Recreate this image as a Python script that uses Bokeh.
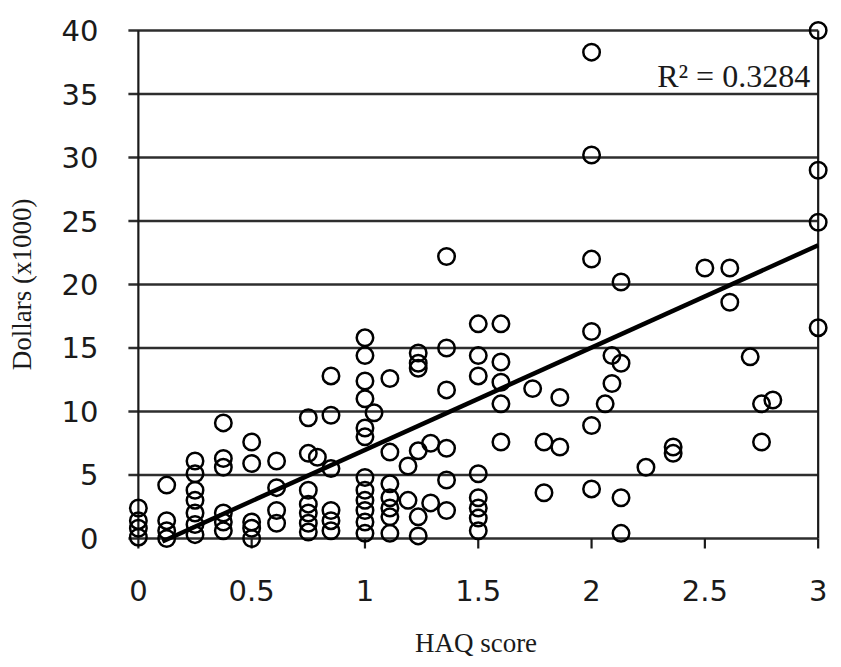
from bokeh.plotting import figure
from bokeh.models import Range1d, FixedTicker, Label
from bokeh.embed import file_html
from bokeh.resources import INLINE

# ---- data ----
haq_scores = (
    [0.0] * 4 + [0.125] * 4 + [0.25] * 7 + [0.375] * 6 + [0.5] * 5 + [0.61] * 4
    + [0.75] * 7 + [0.79] + [0.85] * 6 + [1.0] * 12 + [1.04] + [1.11] * 7
    + [1.19] * 2 + [1.235] * 6 + [1.29] * 2 + [1.36] * 6 + [1.5] * 8
    + [1.6] * 5 + [1.74] + [1.79] * 2 + [1.86] * 2 + [2.0] * 6 + [2.06]
    + [2.09] * 2 + [2.13] * 4 + [2.24] + [2.36] * 2 + [2.5] + [2.61] * 2
    + [2.7] + [2.75] * 2 + [2.8] + [3.0] * 4
)
costs = [
    2.4, 1.4, 0.8, 0.1,                       # 0
    4.2, 1.4, 0.6, 0.0,                       # 0.125
    6.1, 5.1, 3.8, 3.0, 2.0, 1.1, 0.3,        # 0.25
    9.1, 6.3, 5.6, 2.0, 1.3, 0.6,             # 0.375
    7.6, 5.9, 1.3, 0.8, 0.0,                  # 0.5
    6.1, 4.0, 2.2, 1.2,                       # 0.61
    9.5, 6.7, 3.8, 2.7, 2.0, 1.2, 0.5,        # 0.75
    6.4,                                      # 0.79
    12.8, 9.7, 5.5, 2.2, 1.4, 0.6,            # 0.85
    15.8, 14.4, 12.4, 11.0, 8.7, 8.0, 4.8, 3.8, 3.0, 2.2, 1.3, 0.4,  # 1.0
    9.9,                                      # 1.04
    12.6, 6.8, 4.3, 3.2, 2.4, 1.7, 0.4,       # 1.11
    5.7, 3.0,                                 # 1.19
    14.6, 13.8, 13.4, 6.9, 1.7, 0.2,          # 1.235
    7.5, 2.8,                                 # 1.29
    22.2, 15.0, 11.7, 7.1, 4.6, 2.2,          # 1.36
    16.9, 14.4, 12.8, 5.1, 3.2, 2.4, 1.6, 0.6,  # 1.5
    16.9, 13.9, 12.3, 10.6, 7.6,              # 1.6
    11.8,                                     # 1.74
    7.6, 3.6,                                 # 1.79
    11.1, 7.2,                                # 1.86
    38.3, 30.2, 22.0, 16.3, 8.9, 3.9,         # 2.0
    10.6,                                     # 2.06
    14.4, 12.2,                               # 2.09
    20.2, 13.8, 3.2, 0.4,                     # 2.13
    5.6,                                      # 2.24
    7.2, 6.7,                                 # 2.36
    21.3,                                     # 2.5
    21.3, 18.6,                               # 2.61
    14.3,                                     # 2.7
    10.6, 7.6,                                # 2.75
    10.9,                                     # 2.8
    40.0, 29.0, 24.9, 16.6,                   # 3.0
]

x_ticks = [0, 0.5, 1, 1.5, 2, 2.5, 3]
x_tick_labels = ["0", "0.5", "1", "1.5", "2", "2.5", "3"]
y_ticks = [0, 5, 10, 15, 20, 25, 30, 35, 40]
y_tick_labels = ["0", "5", "10", "15", "20", "25", "30", "35", "40"]

fit_slope = 8.06
fit_intercept = -1.09
fit_x = [0.106, 3.0]
r_squared_text = "R\u00b2 = 0.3284"

x_title = "HAQ score"
y_title = "Dollars (x1000)"

# ---- style constants ----
INK = "#1a1a1a"
GRID = "#2e2e2e"
TICK_LEN_X = 0.044   # data units (~10 px) for left ticks
TICK_LEN_Y = 0.8     # data units (~10 px) for bottom ticks

p = figure(
    width=833, height=667,
    x_range=Range1d(-0.07, 3.05), y_range=Range1d(-0.95, 40.95),
    output_backend="svg", toolbar_location=None,
    min_border_left=122, min_border_right=4,
    min_border_top=18, min_border_bottom=117,
)
p.grid.visible = False
p.outline_line_color = None
p.background_fill_color = "white"
p.border_fill_color = "white"

for ax in (p.xaxis[0], p.yaxis[0]):
    ax.axis_line_color = None
    ax.major_tick_line_color = None
    ax.minor_tick_line_color = None
    ax.major_tick_out = 0
    ax.major_tick_in = 0
    ax.major_label_text_font = "DejaVu Sans"
    ax.major_label_text_font_size = "29px"
    ax.major_label_text_color = INK
    ax.axis_label_text_font = "Liberation Serif"
    ax.axis_label_text_font_size = "27px"
    ax.axis_label_text_font_style = "normal"
    ax.axis_label_text_color = INK

p.xaxis.ticker = FixedTicker(ticks=x_ticks)
p.yaxis.ticker = FixedTicker(ticks=y_ticks)
p.xaxis.major_label_overrides = dict(zip(x_ticks, x_tick_labels))
p.yaxis.major_label_overrides = dict(zip(y_ticks, y_tick_labels))
p.xaxis.axis_label = x_title
p.yaxis.axis_label = y_title
p.xaxis.major_label_standoff = 29
p.yaxis.major_label_standoff = 24
p.xaxis.axis_label_standoff = 24
p.yaxis.axis_label_standoff = 22

# horizontal grid lines (extending left as ticks)
n_y = len(y_ticks)
p.segment(x0=[-TICK_LEN_X] * n_y, y0=y_ticks, x1=[x_ticks[-1]] * n_y, y1=y_ticks,
          line_color=GRID, line_width=2.4)
# left and right frame lines
p.segment(x0=[x_ticks[0], x_ticks[-1]], y0=[y_ticks[0]] * 2,
          x1=[x_ticks[0], x_ticks[-1]], y1=[y_ticks[-1]] * 2,
          line_color=INK, line_width=2.2)
# bottom ticks
n_x = len(x_ticks)
p.segment(x0=x_ticks, y0=[-TICK_LEN_Y] * n_x, x1=x_ticks, y1=[0] * n_x,
          line_color=INK, line_width=2.2)

# data points
p.scatter(haq_scores, costs, marker="circle", size=16.5,
          fill_alpha=0, line_color="black", line_width=2.5)

# regression line
p.line(fit_x, [fit_intercept + fit_slope * v for v in fit_x],
       line_color="black", line_width=4.5)

p.add_layout(Label(x=3, y=36.4, x_offset=-8, text=r_squared_text,
                   text_align="right", text_baseline="alphabetic",
                   text_font="Liberation Serif", text_font_size="32px",
                   text_color=INK))

open("out.html", "w").write(file_html(p, INLINE))
